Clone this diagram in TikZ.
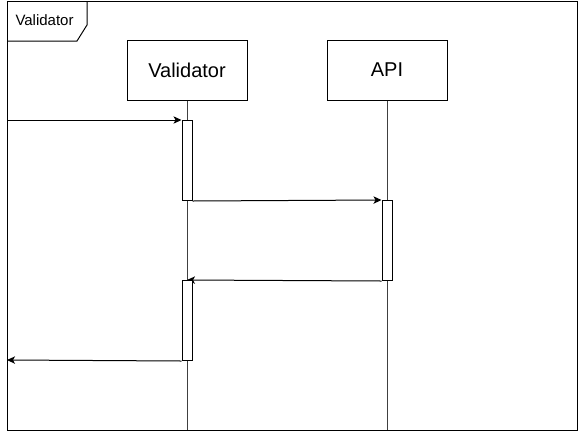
\documentclass[tikz,border=0pt]{standalone}
\usepackage{fontspec}
\setmainfont{Liberation Sans}
\usetikzlibrary{arrows.meta}
\begin{document}
\begin{tikzpicture}[x=0.75pt,y=-0.75pt,
  line width=0.75pt,
  participant/.style={draw,fill=white,minimum width=90pt,minimum height=45pt,inner sep=0pt,font=\fontsize{15}{18}\selectfont},
  lifeline/.style={draw=black!75},
  activation/.style={draw,fill=white,minimum width=7.5pt,minimum height=60pt,inner sep=0pt,anchor=north},
  msg/.style={-{Stealth[length=6pt,width=5.5pt,inset=1.5pt]}}
]
\useasboundingbox (0,0) rectangle (578,433);
% frame
\draw (7,1) rectangle (577,430);
\draw (7,41) -- (77,41) -- (87,25) -- (87,1);
\node[anchor=west,font=\fontsize{11.25}{13}\selectfont,inner sep=0pt] (flabel) at (15,20) {Validator};
% participants
\node[participant] (val) at (187,70) {Validator};
\node[participant] (api) at (387,70) {API};
\coordinate (valend) at (187,430);
\coordinate (apiend) at (387,430);
\draw[lifeline] (val.south) -- (valend);
\draw[lifeline] (api.south) -- (apiend);
% messages
\coordinate (in1) at (7,120);
\coordinate (out1) at (7,360);
\coordinate (ret) at (187,280);
\node[activation] (a1) at (187,120) {};
\node[activation] (a2) at (387,200) {};
\draw[msg] (a2.south west) -- (ret);
\node[activation] (a3) at (187,280) {};
\draw[msg] (in1) -- (a1.north west);
\draw[msg] (a1.south east) -- (a2.north west);
\draw[msg] (a3.south west) -- (out1);
\end{tikzpicture}
\end{document}
